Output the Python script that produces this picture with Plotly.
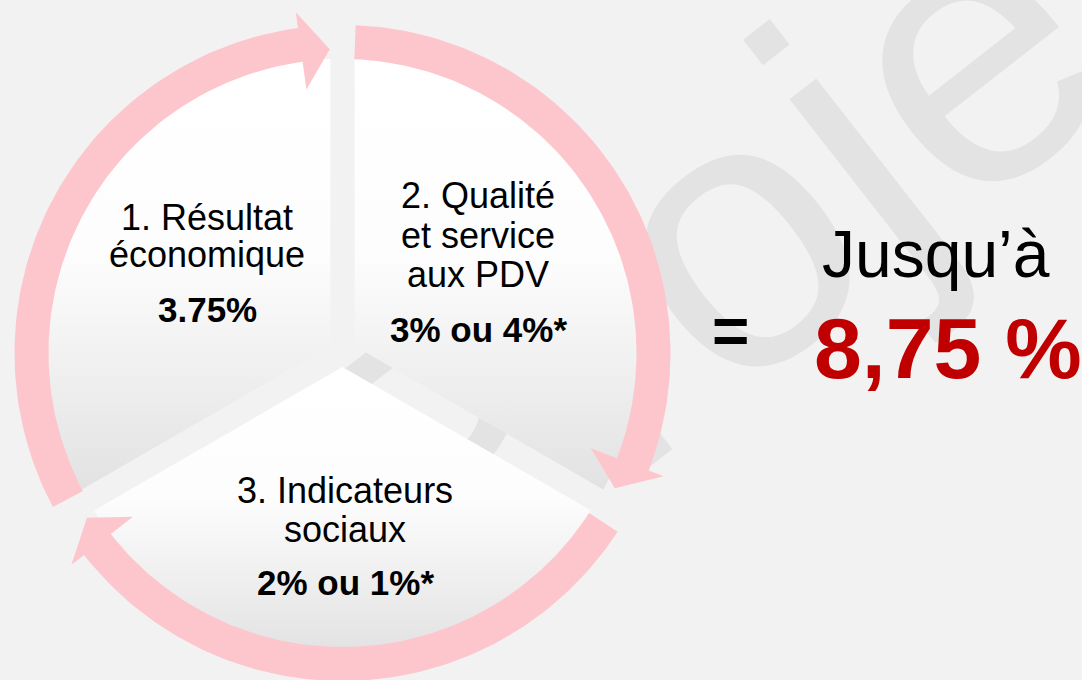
import numpy as np
import plotly.graph_objects as go

# ---- content of the slide ----
segment_titles = [
    ["1. Résultat", "économique"],
    ["2. Qualité", "et service", "aux PDV"],
    ["3. Indicateurs", "sociaux"],
]
segment_rates = ["3.75%", "3% ou 4%*", "2% ou 1%*"]
total_prefix = "Jusqu’à"
total_value = "8,75 %"
watermark = "Projet"

# ---- geometry (pixel units, y grows downward) ----
CX, CY = 342.5, 353.0
R_IN, R_OUT = 294, 328
HEAD_IN, HEAD_OUT, TIP_R = 266, 344, 304
WEDGE_R, WEDGE_SHIFT = 287, 14
wedge_spans = [(90, 210), (-30, 90), (210, 330)]
# tail angle, head base angle, tip angle (degrees, clockwise travel)
arrow_spans = [(208, 97.8, 92.4), (87.7, -21, -26.4), (-33, -142, -147.2)]

title_pos = [(207, [230, 267], 322), (478, [208, 248, 287], 342), (345, [503, 542], 595)]

PINK = "#fdc6cc"
BG = "#f2f2f2"
FONT = "Liberation Sans"
TXT = 36


def pt(cx, cy, r, a):
    a = np.radians(a)
    return cx + r * np.cos(a), cy - r * np.sin(a)


def arc(cx, cy, r, a0, a1, n=90):
    t = np.radians(np.linspace(a0, a1, n))
    return list(cx + r * np.cos(t)), list(cy - r * np.sin(t))


fig = go.Figure()

# pie wedges with white-to-grey vertical gradient
for a0, a1 in wedge_spans:
    mid = np.radians((a0 + a1) / 2)
    wx = CX + WEDGE_SHIFT * np.cos(mid)
    wy = CY - WEDGE_SHIFT * np.sin(mid)
    xs, ys = arc(wx, wy, WEDGE_R, a0, a1)
    xs = [wx] + xs + [wx]
    ys = [wy] + ys + [wy]
    fig.add_trace(go.Scatter(
        x=xs, y=ys, mode="lines", fill="toself", line=dict(width=0),
        fillgradient=dict(type="vertical", start=min(ys), stop=max(ys),
                          colorscale=[[0, "#ffffff"], [0.45, "#fdfdfd"], [1, "#e2e2e2"]]),
        hoverinfo="skip", showlegend=False,
    ))

# circular arrows
for tail, base, tip in arrow_spans:
    ox, oy = arc(CX, CY, R_OUT, tail, base)
    ix, iy = arc(CX, CY, R_IN, base, tail)
    hox, hoy = pt(CX, CY, HEAD_OUT, base)
    tx, ty = pt(CX, CY, TIP_R, tip)
    hix, hiy = pt(CX, CY, HEAD_IN, base)
    xs = ox + [hox, tx, hix] + ix + [ox[0]]
    ys = oy + [hoy, ty, hiy] + iy + [oy[0]]
    fig.add_trace(go.Scatter(
        x=xs, y=ys, mode="lines", fill="toself", fillcolor=PINK,
        line=dict(width=0), hoverinfo="skip", showlegend=False,
    ))

ann = []
for (x, baselines, rate_base), lines, rate in zip(title_pos, segment_titles, segment_rates):
    for b, line in zip(baselines, lines):
        ann.append(dict(x=x, y=b - 0.35 * TXT, text=line, showarrow=False,
                        font=dict(family=FONT, size=TXT, color="#000000")))
    ann.append(dict(x=x, y=rate_base - 0.35 * 35, text="<b>%s</b>" % rate, showarrow=False,
                    font=dict(family=FONT, size=35, color="#000000")))

ann.append(dict(x=936, y=277 - 0.35 * 66, text=total_prefix, showarrow=False,
                font=dict(family=FONT, size=66, color="#000000")))
ann.append(dict(x=730, y=331, text="<b>=</b>", showarrow=False,
                font=dict(family=FONT, size=64, color="#000000")))
ann.append(dict(x=948, y=378 - 0.35 * 86, text="<b>%s</b>" % total_value, showarrow=False,
                font=dict(family=FONT, size=86, color="#c00000")))

fig.update_layout(
    width=1082, height=680,
    margin=dict(l=0, r=0, t=0, b=0),
    paper_bgcolor=BG, plot_bgcolor=BG,
    xaxis=dict(range=[0, 1082], visible=False, fixedrange=True),
    yaxis=dict(range=[680, 0], visible=False, fixedrange=True),
    annotations=ann,
    shapes=[dict(
        type="rect", xref="x", yref="y", x0=705, x1=725, y0=192, y1=212,
        line=dict(width=0), fillcolor="rgba(0,0,0,0)", layer="below",
        label=dict(text=watermark, textangle=-38, textposition="middle center",
                   font=dict(family=FONT, size=385, color="#e3e3e3")),
    )],
)

fig.write_html("out.html", config={"displayModeBar": False},
               post_script="document.body.style.margin='0';")
